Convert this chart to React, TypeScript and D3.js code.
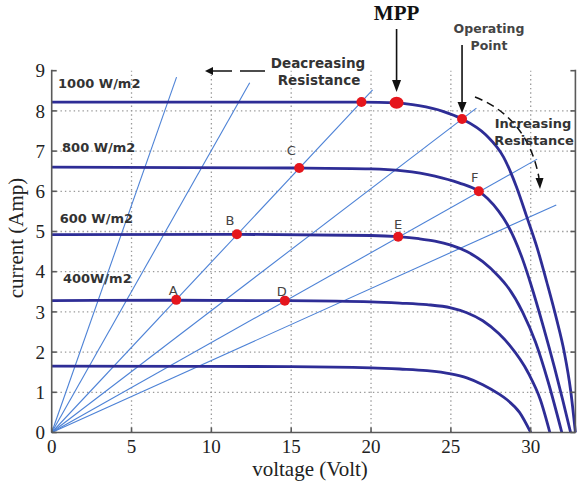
import React from "react";
import * as d3 from "d3";

// ---------- data ----------
const xTicks = [0, 5, 10, 15, 20, 25, 30];
const yTicks = [0, 1, 2, 3, 4, 5, 6, 7, 8, 9];

const curve1000: [number, number][] = [
  [0, 8.22], [10, 8.22], [19.4, 8.22], [21.6, 8.2], [23, 8.13], [24.5, 7.99], [25.7, 7.8],
  [27.2, 7.4], [28.3, 6.85], [29.1, 6.12], [29.75, 5.37], [30.4, 4.6], [31.0, 3.75],
  [31.6, 2.85], [32.1, 2.0], [32.5, 1.05], [32.8, 0],
];
const curve800: [number, number][] = [
  [0, 6.6], [15.5, 6.58], [20, 6.56], [22, 6.51], [24, 6.38], [25.5, 6.21], [26.75, 6.0],
  [27.3, 5.82], [28, 5.5], [28.5, 5.2], [29.5, 4.3], [30.0, 3.7], [30.8, 2.62], [31.5, 1.6],
  [32.0, 0.82], [32.5, 0],
];
const curve600: [number, number][] = [
  [0, 4.92], [11.6, 4.93], [20, 4.9], [21.7, 4.87], [23, 4.82], [24, 4.76], [25, 4.66],
  [26, 4.5], [27, 4.25], [28, 3.88], [28.5, 3.65], [29.5, 2.99], [30.3, 2.25], [31.1, 1.25],
  [31.95, 0],
];
const curve400: [number, number][] = [
  [0, 3.28], [7.8, 3.29], [14.6, 3.28], [20, 3.25], [21.8, 3.22], [23.5, 3.18], [25, 3.1],
  [26, 2.98], [27, 2.78], [28, 2.46], [28.7, 2.16], [29.85, 1.48], [30.6, 0.82], [31.2, 0],
];
const curve200: [number, number][] = [
  [0, 1.65], [15, 1.64], [20, 1.61], [21.8, 1.58], [23.5, 1.54], [25, 1.46], [26, 1.36],
  [27, 1.19], [28, 0.96], [28.5, 0.82], [29.3, 0.5], [30, 0],
];
const ivCurves = [curve1000, curve800, curve600, curve400, curve200];

const irradianceLabels = ["1000 W/m2", "800 W/m2", "600 W/m2", "400W/m2"];
const irradianceLabelV = [0.4, 0.65, 0.5, 0.7];
const irradianceLabelI = [8.56, 6.98, 5.22, 3.71];

// load lines from the origin: end points (V, I)
const resistanceEndV = [7.82, 12.4, 20.1, 26.6, 30.4, 31.6];
const resistanceEndI = [8.84, 8.7, 8.52, 8.07, 6.8, 5.66];

const pointNames = ["A", "B", "C", "D", "E", "F"];
const pointV = [7.8, 11.6, 15.5, 14.6, 21.7, 26.75];
const pointI = [3.3, 4.93, 6.58, 3.28, 4.87, 6.0];
const extraPointV = [19.4];
const extraPointI = [8.22];
const mppV = 21.6, mppI = 8.2;
const opV = 25.7, opI = 7.8;

// ---------- layout ----------
const W = 577, H = 485;
const x = d3.scaleLinear().domain([0, 30]).range([51.7, 530.7]);
const y = d3.scaleLinear().domain([0, 9]).range([432.5, 70.7]);
const xMax = 32.8;

const labelDx = [-3, -7, -8, -3, 0, -4];
const labelDy = [-5, -9, -13, -5, -8, -9];

const NAVY = "#2e2d96";
const BLUE = "#4d82d6";
const RED = "#e5161d";
const AXIS = "#5a5a5a";
const GRID = "#9a9a9a";
const SANS = "'DejaVu Sans', Verdana, sans-serif";
const SERIF = "'Liberation Serif', 'Times New Roman', serif";

export default function App() {
  const line = d3
    .line<[number, number]>()
    .x((d) => x(d[0]))
    .y((d) => y(d[1]))
    .curve(d3.curveMonotoneX);

  const x0 = x(0), x1 = x(xMax), y0 = y(0), y9 = y(9);

  // increasing resistance dashed arc
  const arcPath = "M475,97 Q528,118 539,178";

  return (
    <svg
      width={W}
      height={H}
      viewBox={`0 0 ${W} ${H}`}
      style={{ position: "absolute", left: 0, top: 0, background: "#fff" }}
    >
      <rect x={0} y={0} width={W} height={H} fill="#fff" />
      {/* grid */}
      <g stroke={GRID} strokeWidth={1.3} strokeDasharray="1.4,3">
        {yTicks.filter((t) => t > 0 && t < 9).map((t) => (
          <line key={"gy" + t} x1={x0} x2={x1} y1={y(t)} y2={y(t)} />
        ))}
        {xTicks.filter((t) => t > 0).map((t) => (
          <line key={"gx" + t} x1={x(t)} x2={x(t)} y1={y0} y2={y9} />
        ))}
      </g>

      {/* resistance lines */}
      <g stroke={BLUE} strokeWidth={1.1} fill="none">
        {resistanceEndV.map((v, i) => (
          <line key={"r" + i} x1={x(0)} y1={y(0)} x2={x(v)} y2={y(resistanceEndI[i])} />
        ))}
      </g>

      {/* I-V curves */}
      <g fill="none" stroke={NAVY} strokeWidth={2.8}>
        {ivCurves.map((c, i) => (
          <path key={"c" + i} d={line(c) || ""} />
        ))}
      </g>

      {/* axes frame */}
      <g stroke={AXIS} strokeWidth={1.6} fill="none">
        <line x1={x0} x2={x0} y1={y9 - 1} y2={y0} />
        <line x1={x0} x2={x1} y1={y0} y2={y0} />
        <line x1={x1} x2={x1} y1={y9 - 1} y2={y0} />
        {yTicks.map((t) => (
          <g key={"ty" + t}>
            <line x1={x0} x2={x0 + 5} y1={y(t)} y2={y(t)} />
            <line x1={x1} x2={x1 - 5} y1={y(t)} y2={y(t)} />
          </g>
        ))}
        {xTicks.map((t) => (
          <line key={"tx" + t} x1={x(t)} x2={x(t)} y1={y0} y2={y0 - 5} />
        ))}
      </g>

      {/* tick labels */}
      <g fontFamily={SERIF} fontSize={19} fill="#222">
        {yTicks.map((t) => (
          <text key={"ly" + t} x={45} y={y(t)} dy="0.35em" textAnchor="end">
            {t}
          </text>
        ))}
        {xTicks.map((t) => (
          <text key={"lx" + t} x={x(t)} y={453} textAnchor="middle">
            {t}
          </text>
        ))}
      </g>

      {/* axis titles */}
      <text x={310} y={476} textAnchor="middle" fontFamily={SERIF} fontSize={21} fill="#222">
        voltage (Volt)
      </text>
      <text
        transform={`translate(23,238) rotate(-90)`}
        textAnchor="middle"
        fontFamily={SERIF}
        fontSize={21}
        fill="#222"
      >
        current (Amp)
      </text>

      {/* irradiance labels */}
      <g fontFamily={SANS} fontWeight="bold" fontSize={13} fill="#333">
        {irradianceLabels.map((l, i) => (
          <text key={"ir" + i} x={x(irradianceLabelV[i])} y={y(irradianceLabelI[i])}>
            {l}
          </text>
        ))}
      </g>

      {/* operating points */}
      <g fill={RED}>
        {pointV.map((v, i) => (
          <circle key={"p" + i} cx={x(v)} cy={y(pointI[i])} r={5} />
        ))}
        {extraPointV.map((v, i) => (
          <circle key={"e" + i} cx={x(v)} cy={y(extraPointI[i])} r={5} />
        ))}
        <ellipse cx={x(mppV)} cy={y(mppI)} rx={7} ry={6} />
        <circle cx={x(opV)} cy={y(opI)} r={5} />
      </g>
      <g fontFamily={SANS} fontSize={13} fill="#444" textAnchor="middle">
        {pointNames.map((n, i) => (
          <text key={"pl" + i} x={x(pointV[i]) + labelDx[i]} y={y(pointI[i]) + labelDy[i]}>
            {n}
          </text>
        ))}
      </g>

      {/* MPP annotation */}
      <text x={x(mppV)} y={20} textAnchor="middle" fontFamily={SERIF} fontWeight="bold" fontSize={21} fill="#111">
        MPP
      </text>
      <line x1={x(mppV)} x2={x(mppV)} y1={29} y2={82} stroke="#111" strokeWidth={1.6} />
      <path d={`M${x(mppV) - 4.5},80 L${x(mppV) + 4.5},80 L${x(mppV)},92 Z`} fill="#111" />

      {/* Operating point annotation */}
      <g fontFamily={SANS} fontWeight="bold" fontSize={12.5} fill="#444" textAnchor="middle">
        <text x={489} y={33}>Operating</text>
        <text x={489} y={50}>Point</text>
      </g>
      <line x1={x(opV)} x2={x(opV)} y1={45} y2={104} stroke="#111" strokeWidth={1.6} />
      <path d={`M${x(opV) - 4.5},102 L${x(opV) + 4.5},102 L${x(opV)},113 Z`} fill="#111" />

      {/* decreasing resistance */}
      <g fontFamily={SANS} fontWeight="bold" fontSize={13.5} fill="#333" textAnchor="middle">
        <text x={318} y={68}>Deacreasing</text>
        <text x={319} y={85}>Resistance</text>
      </g>
      <line x1={213} x2={232} y1={71} y2={71} stroke="#111" strokeWidth={1.5} />
      <line x1={240} x2={265} y1={71} y2={71} stroke="#111" strokeWidth={1.5} />
      <path d="M205,71 L213,67 L213,75 Z" fill="#111" />

      {/* increasing resistance */}
      <path d={arcPath} fill="none" stroke="#111" strokeWidth={1.5} strokeDasharray="8,5" />
      <path d="M535.5,178 L543.5,178 L540,189 Z" fill="#111" />
      <g fontFamily={SANS} fontWeight="bold" fontSize={13} fill="#333" textAnchor="middle">
        <text x={533} y={128}>Increasing</text>
        <text x={534} y={145}>Resistance</text>
      </g>
    </svg>
  );
}
